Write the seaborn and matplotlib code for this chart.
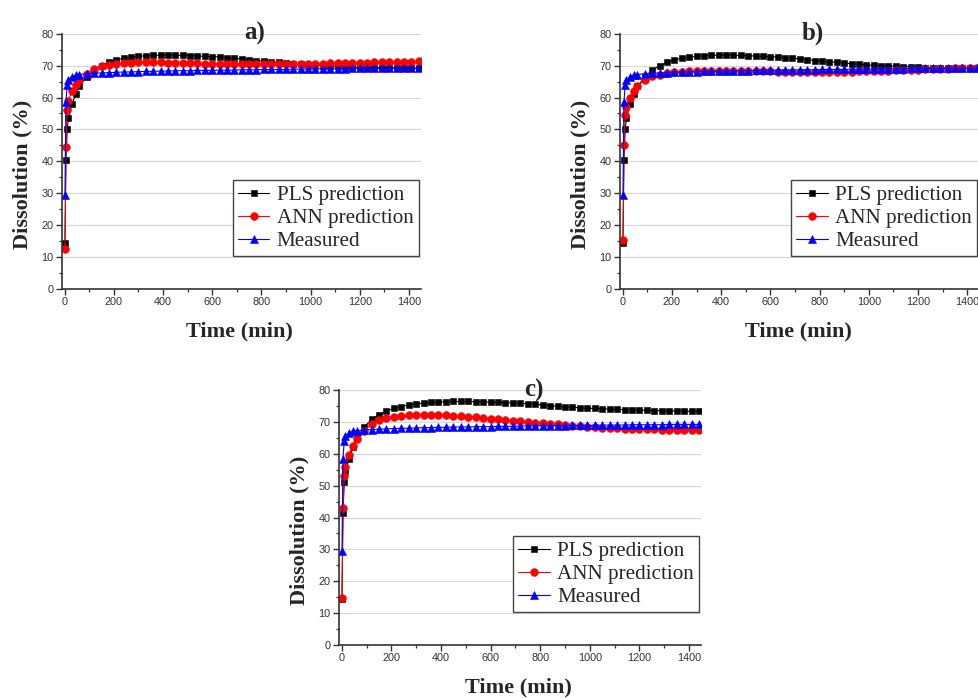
import matplotlib
matplotlib.use("Agg")
import matplotlib.pyplot as plt
from matplotlib.ticker import MultipleLocator
import seaborn as sns

# ---------------- data ----------------
time_min = [1, 5, 10, 15, 30, 45, 60, 90, 120, 150, 180, 210, 240, 270, 300, 330,
            360, 390, 420, 450, 480, 510, 540, 570, 600, 630, 660, 690, 720, 750,
            780, 810, 840, 870, 900, 930, 960, 990, 1020, 1050, 1080, 1110, 1140,
            1170, 1200, 1230, 1260, 1290, 1320, 1350, 1380, 1410, 1440]

measured = [29.5, 58.5, 64.0, 65.5, 66.5, 67.0, 67.2, 67.5, 67.6, 67.7, 67.8, 67.9,
            68.0, 68.0, 68.1, 68.2, 68.2, 68.3, 68.3, 68.4, 68.4, 68.4, 68.5, 68.5,
            68.5, 68.6, 68.6, 68.6, 68.7, 68.7, 68.7, 68.8, 68.8, 68.8, 68.8, 68.9,
            68.9, 68.9, 68.9, 69.0, 69.0, 69.0, 69.0, 69.1, 69.1, 69.1, 69.1, 69.1,
            69.2, 69.2, 69.2, 69.2, 69.2]

pls_a = [14.5, 40.5, 50.0, 53.5, 58.0, 61.0, 63.5, 66.5, 68.5, 70.0, 71.0, 71.8,
         72.3, 72.6, 72.9, 73.1, 73.2, 73.3, 73.3, 73.3, 73.2, 73.1, 73.0, 72.9,
         72.8, 72.7, 72.5, 72.3, 72.1, 71.9, 71.6, 71.4, 71.2, 71.0, 70.8, 70.6,
         70.4, 70.2, 70.1, 70.0, 69.9, 69.8, 69.7, 69.6, 69.5, 69.4, 69.4, 69.3,
         69.3, 69.2, 69.2, 69.1, 69.1]

ann_a = [12.5, 44.5, 56.0, 59.0, 62.0, 64.0, 65.5, 67.5, 69.0, 69.8, 70.3, 70.6,
         70.8, 70.9, 71.0, 71.0, 71.0, 71.0, 70.9, 70.9, 70.8, 70.7, 70.7, 70.6,
         70.6, 70.5, 70.5, 70.5, 70.4, 70.4, 70.4, 70.4, 70.4, 70.4, 70.4, 70.5,
         70.5, 70.5, 70.6, 70.6, 70.7, 70.7, 70.8, 70.8, 70.9, 70.9, 71.0, 71.0,
         71.1, 71.1, 71.2, 71.2, 71.3]

pls_b = [14.5, 40.5, 50.0, 53.5, 58.0, 61.0, 63.5, 66.5, 68.5, 70.0, 71.0, 71.8,
         72.3, 72.6, 72.9, 73.1, 73.2, 73.3, 73.3, 73.3, 73.2, 73.1, 73.0, 72.9,
         72.8, 72.7, 72.5, 72.3, 72.1, 71.9, 71.6, 71.4, 71.2, 71.0, 70.8, 70.6,
         70.4, 70.2, 70.1, 70.0, 69.9, 69.8, 69.7, 69.6, 69.5, 69.4, 69.4, 69.3,
         69.3, 69.2, 69.2, 69.1, 69.1]

ann_b = [15.5, 45.0, 54.5, 57.0, 60.0, 62.0, 63.7, 65.6, 66.6, 67.2, 67.6, 67.9,
         68.1, 68.2, 68.3, 68.3, 68.4, 68.4, 68.4, 68.3, 68.3, 68.3, 68.2, 68.2,
         68.2, 68.1, 68.1, 68.1, 68.0, 68.0, 68.0, 68.0, 68.0, 68.1, 68.1, 68.1,
         68.2, 68.2, 68.3, 68.4, 68.4, 68.5, 68.6, 68.7, 68.7, 68.8, 68.9, 68.9,
         69.0, 69.1, 69.1, 69.2, 69.2]

pls_c = [14.5, 41.3, 51.0, 54.5, 58.5, 62.0, 65.0, 68.3, 70.8, 72.3, 73.4, 74.2,
         74.8, 75.3, 75.6, 75.9, 76.1, 76.2, 76.3, 76.4, 76.4, 76.4, 76.3, 76.3,
         76.2, 76.1, 76.0, 75.9, 75.8, 75.7, 75.5, 75.3, 75.1, 74.9, 74.7, 74.6,
         74.4, 74.3, 74.2, 74.1, 74.0, 73.9, 73.8, 73.7, 73.7, 73.6, 73.5, 73.5,
         73.4, 73.4, 73.4, 73.3, 73.3]

ann_c = [14.7, 43.0, 53.0, 56.0, 59.6, 62.4, 64.5, 67.0, 69.3, 70.5, 71.2, 71.6,
         71.9, 72.1, 72.2, 72.3, 72.3, 72.2, 72.1, 72.0, 71.8, 71.6, 71.4, 71.2,
         71.0, 70.8, 70.6, 70.4, 70.2, 70.0, 69.8, 69.6, 69.4, 69.2, 69.0, 68.8,
         68.6, 68.5, 68.3, 68.2, 68.1, 68.0, 67.9, 67.8, 67.8, 67.7, 67.7, 67.6,
         67.6, 67.6, 67.5, 67.5, 67.5]

panel_titles = ["a)", "b)", "c)"]
series_labels = ["PLS prediction", "ANN prediction", "Measured"]
y_ticks = [0, 10, 20, 30, 40, 50, 60, 70, 80]
x_ticks = [0, 200, 400, 600, 800, 1000, 1200, 1400]

# ---------------- style ----------------
sns.set_theme(style="ticks")
plt.rcParams["font.family"] = ["Liberation Sans", "DejaVu Sans"]

W, H = 979, 698
fig = plt.figure(figsize=(W / 100, H / 100), dpi=100)

# axes boxes in pixel coordinates: left, right, top, bottom
boxes = [(62, 420.7, 33.7, 289), (620, 979, 33.7, 289), (339, 701, 390, 645)]
panels = [(pls_a, ann_a), (pls_b, ann_b), (pls_c, ann_c)]

serif = ["Liberation Serif", "DejaVu Serif"]

for (l, r, t, b), (pls, ann), title in zip(boxes, panels, panel_titles):
    ax = fig.add_axes([l / W, (H - b) / H, (r - l) / W, (b - t) / H])
    ax.set_facecolor("white")
    styles = [
        (pls, "s", "black", 4.8),
        (ann, "o", "red", 5.6),
        (measured, "^", "blue", 5.8),
    ]
    for (vals, mk, col, ms), lab in zip(styles, series_labels):
        sns.lineplot(x=time_min, y=vals, ax=ax, color=col, marker=mk,
                     markersize=ms, markeredgecolor=col, markeredgewidth=0.4,
                     linewidth=0.8, label=lab)
    ax.set_xlim(-11, 1448)
    ax.set_ylim(0, 80)
    ax.set_xticks(x_ticks)
    ax.set_yticks(y_ticks)
    ax.xaxis.set_minor_locator(MultipleLocator(100))
    ax.yaxis.set_minor_locator(MultipleLocator(5))
    ax.tick_params(axis="both", which="major", direction="out", length=4,
                   width=1.0, color="#333333", labelsize=7.8,
                   labelcolor="#333333", pad=2)
    ax.tick_params(axis="both", which="minor", direction="out", length=2.5,
                   width=0.9, color="#333333")
    ax.grid(axis="y", which="major", color="#d6d6d6", linewidth=0.8)
    ax.grid(axis="x", visible=False)
    ax.set_axisbelow(True)
    for side in ["top", "right"]:
        ax.spines[side].set_visible(False)
    for side in ["left", "bottom"]:
        ax.spines[side].set_color("#333333")
        ax.spines[side].set_linewidth(1.2)

    ax.set_xlabel("Time (min)", fontdict={"family": serif, "weight": "bold",
                                          "size": 16})
    ax.set_ylabel("Dissolution (%)", fontdict={"family": serif, "weight": "bold",
                                               "size": 16})
    ax.xaxis.set_label_coords(0.496, -0.165)
    ax.yaxis.set_label_coords(-0.109, 0.45)
    ax.xaxis.label.set_va("center")
    ax.yaxis.label.set_va("center")

    ax.text(0.538, 1.0, title, transform=ax.transAxes, ha="center",
            va="center", family=serif, fontweight="bold", fontsize=18)

    leg = ax.legend(loc="lower right", bbox_to_anchor=(0.995, 0.128),
                    prop={"family": serif, "size": 15.2}, frameon=True,
                    fancybox=False, framealpha=1, edgecolor="#444444",
                    borderpad=0.25, labelspacing=0.15, handlelength=1.5,
                    handletextpad=0.35, borderaxespad=0)
    leg.get_frame().set_linewidth(1.0)

fig.savefig("out.png", dpi=100)
